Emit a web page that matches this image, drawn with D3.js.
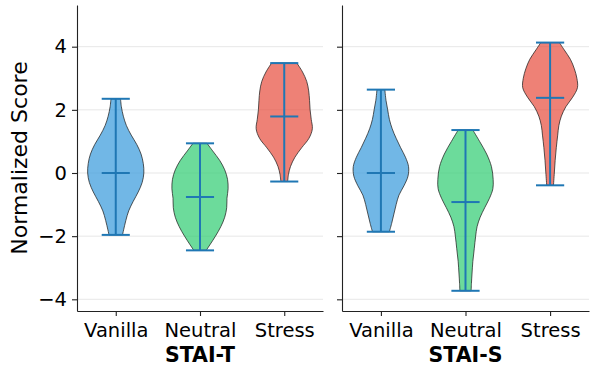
<!DOCTYPE html>
<html>
<head>
<meta charset="utf-8">
<script src="https://cdn.jsdelivr.net/npm/d3@7"></script>
<style>
  body { margin: 0; background: #fff; }
  svg { display: block; font-family: "DejaVu Sans", sans-serif; }
</style>
</head>
<body>
<svg id="chart" width="590" height="372"></svg>
<script>
// ---------------- data ----------------
const categories = ["Vanilla", "Neutral", "Stress"];
const panelTitles = ["STAI-T", "STAI-S"];
const yTicks = [-4, -2, 0, 2, 4];
const fillColors = ["#3498db", "#2ecc71", "#e74c3c"];

// STAI-T summary values
const staiTMax = [2.35, 0.94, 3.48];
const staiTMin = [-1.96, -2.45, -0.27];
const staiTMean = [0.0, -0.76, 1.79];
// STAI-S summary values
const staiSMax = [2.64, 1.36, 4.13];
const staiSMin = [-1.86, -3.73, -0.39];
const staiSMean = [0.0, -0.92, 2.38];

// density profiles (score value, relative width)
const staiTVanillaY = [2.35, 2.1, 1.8, 1.5, 1.2, 0.9, 0.6, 0.3, 0.0, -0.3, -0.6, -0.9, -1.2, -1.5, -1.8, -1.96];
const staiTVanillaW = [0.17, 0.2, 0.27, 0.38, 0.55, 0.75, 0.9, 0.98, 1.0, 0.94, 0.8, 0.62, 0.46, 0.36, 0.28, 0.24];
const staiTNeutralY = [0.94, 0.7, 0.4, 0.1, -0.2, -0.5, -0.8, -1.1, -1.4, -1.7, -2.0, -2.25, -2.45];
const staiTNeutralW = [0.25, 0.45, 0.7, 0.88, 0.98, 1.0, 0.96, 0.95, 0.88, 0.74, 0.55, 0.37, 0.22];
const staiTStressY = [3.48, 3.2, 2.9, 2.6, 2.3, 2.0, 1.7, 1.4, 1.1, 0.8, 0.5, 0.2, -0.05, -0.27];
const staiTStressW = [0.45, 0.65, 0.8, 0.87, 0.9, 0.92, 0.96, 1.0, 0.88, 0.62, 0.38, 0.22, 0.15, 0.12];
const staiSVanillaY = [2.64, 2.3, 2.0, 1.7, 1.4, 1.1, 0.8, 0.5, 0.2, -0.1, -0.4, -0.7, -1.0, -1.3, -1.6, -1.86];
const staiSVanillaW = [0.14, 0.18, 0.24, 0.3, 0.4, 0.54, 0.7, 0.87, 0.98, 0.96, 0.82, 0.64, 0.54, 0.46, 0.38, 0.3];
const staiSNeutralY = [1.36, 1.0, 0.6, 0.2, -0.2, -0.5, -0.8, -1.1, -1.4, -1.7, -2.0, -2.4, -2.8, -3.2, -3.5, -3.73];
const staiSNeutralW = [0.26, 0.5, 0.75, 0.92, 0.98, 0.97, 0.85, 0.68, 0.52, 0.41, 0.36, 0.31, 0.26, 0.23, 0.21, 0.2];
const staiSStressY = [4.13, 3.9, 3.6, 3.3, 3.0, 2.7, 2.4, 2.1, 1.8, 1.5, 1.2, 0.8, 0.4, 0.0, -0.39];
const staiSStressW = [0.33, 0.5, 0.72, 0.86, 0.95, 0.97, 0.8, 0.56, 0.4, 0.31, 0.27, 0.22, 0.18, 0.15, 0.12];

// ---------------- assemble ----------------
const panels = [
  { title: panelTitles[0], max: staiTMax, min: staiTMin, mean: staiTMean,
    profiles: [[staiTVanillaY, staiTVanillaW], [staiTNeutralY, staiTNeutralW], [staiTStressY, staiTStressW]],
    left: 77, right: 323, showLabels: true },
  { title: panelTitles[1], max: staiSMax, min: staiSMin, mean: staiSMean,
    profiles: [[staiSVanillaY, staiSVanillaW], [staiSNeutralY, staiSNeutralW], [staiSStressY, staiSStressW]],
    left: 342, right: 589, showLabels: false }
];

const svg = d3.select("#chart");
const plotTop = 5, plotBottom = 311;
const y = d3.scaleLinear().domain([-4.37, 5.32]).range([plotBottom, plotTop]);
const violinWidth = 0.667;
const fmt = d => d < 0 ? "\u2212" + Math.abs(d) : String(d);

panels.forEach(p => {
  const x = d3.scaleLinear().domain([0.54, 3.46]).range([p.left, p.right]);
  const g = svg.append("g");

  // grid
  g.append("g").selectAll("line").data(yTicks).join("line")
    .attr("x1", p.left).attr("x2", p.right)
    .attr("y1", d => y(d)).attr("y2", d => y(d))
    .attr("stroke", "#b0b0b0").attr("stroke-opacity", 0.3).attr("stroke-width", 1);

  // violins
  p.profiles.forEach((prof, i) => {
    const pos = i + 1;
    const pts = prof[0].map((v, k) => ({ v, w: prof[1][k] }));
    const half = violinWidth / 2;
    const area = d3.area()
      .y(d => y(d.v))
      .x0(d => x(pos - d.w * half))
      .x1(d => x(pos + d.w * half))
      .curve(d3.curveCatmullRom.alpha(0.5));
    g.append("path").datum(pts)
      .attr("d", area)
      .attr("fill", fillColors[i]).attr("fill-opacity", 0.7)
      .attr("stroke", "#222").attr("stroke-opacity", 0.75).attr("stroke-width", 1);

    const capHalf = violinWidth / 4;
    const lineCol = "#1f77b4";
    g.append("line").attr("x1", x(pos)).attr("x2", x(pos))
      .attr("y1", y(p.max[i])).attr("y2", y(p.min[i]))
      .attr("stroke", lineCol).attr("stroke-width", 2);
    [p.max[i], p.min[i], p.mean[i]].forEach(val => {
      g.append("line").attr("x1", x(pos - capHalf)).attr("x2", x(pos + capHalf))
        .attr("y1", y(val)).attr("y2", y(val))
        .attr("stroke", lineCol).attr("stroke-width", 2);
    });
  });

  // y axis
  const ya = d3.axisLeft(y).tickValues(yTicks).tickSize(5).tickSizeOuter(0).tickPadding(5)
    .tickFormat(p.showLabels ? fmt : () => "");
  const yg = g.append("g").attr("transform", `translate(${p.left},0)`).call(ya);
  yg.select(".domain").attr("stroke", "#222").attr("stroke-width", 1.1);
  yg.selectAll(".tick line").attr("stroke", "#222").attr("stroke-width", 1.1);
  yg.selectAll("text").attr("font-size", 19.5).attr("fill", "#000")
    .attr("font-family", "DejaVu Sans");

  // x axis
  const xa = d3.axisBottom(x).tickValues([1, 2, 3]).tickSize(5).tickSizeOuter(0).tickPadding(7)
    .tickFormat((d, i) => categories[i]);
  const xg = g.append("g").attr("transform", `translate(0,${plotBottom})`).call(xa);
  xg.select(".domain").attr("stroke", "#222").attr("stroke-width", 1.1);
  xg.selectAll(".tick line").attr("stroke", "#222").attr("stroke-width", 1.1);
  xg.selectAll("text").attr("font-size", 19.5).attr("fill", "#000")
    .attr("font-family", "DejaVu Sans");

  g.append("text").attr("x", (p.left + p.right) / 2).attr("y", 362)
    .attr("text-anchor", "middle").attr("font-size", 20.5).attr("font-weight", "bold")
    .attr("font-family", "DejaVu Sans").text(p.title);
});

svg.append("text")
  .attr("transform", "translate(27,158) rotate(-90)")
  .attr("text-anchor", "middle").attr("font-size", 22)
  .attr("font-family", "DejaVu Sans").text("Normalized Score");
</script>
</body>
</html>
